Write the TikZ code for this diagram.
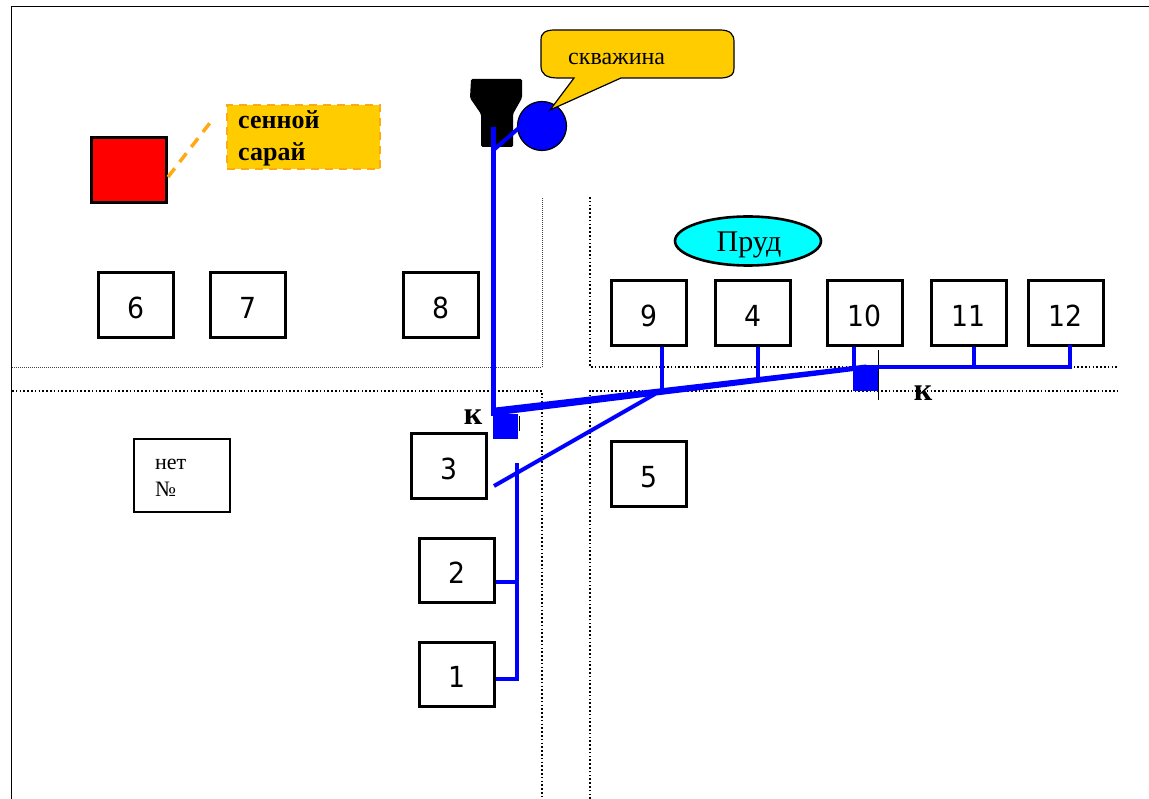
\documentclass[tikz,border=0pt]{standalone}
\usepackage{fontspec}
\setmainfont{Liberation Serif}
\newfontfamily\digitfont[FakeStretch=0.92]{DejaVu Sans}
\usetikzlibrary{shapes.geometric,calc}
\definecolor{gold}{RGB}{255,204,0}
\definecolor{dashorange}{RGB}{255,170,20}
\definecolor{pondcyan}{RGB}{0,255,255}
\definecolor{pipeblue}{RGB}{0,0,255}
\tikzset{
  x=1pt,y=-1pt,
  house/.style={draw=black,line width=3pt,fill=white,inner sep=0pt},
  pipe/.style={draw=pipeblue,line width=4pt},
  roadthin/.style={draw=black!75,line width=0.8pt,dash pattern=on 1pt off 1pt},
  road/.style={draw=black,line width=1.5pt,dash pattern=on 1.6pt off 2.2pt},
  valve/.style={fill=pipeblue,inner sep=0pt,minimum width=25pt,minimum height=25pt},
  klabel/.style={font=\bfseries\fontsize{32}{34}\selectfont,inner sep=0pt},
}
\newcommand{\housebox}[4]{\node[house,minimum width=75pt,minimum height=#4pt,anchor=north west] (#1) at (#2,#3) {};
  \node[font=\digitfont\fontsize{29}{32}\selectfont,inner sep=0pt,anchor=base] (t#1) at ($(#1.center)+(-0.5,13.5)$) {#1};}
\begin{document}
\begin{tikzpicture}
\useasboundingbox (0,0) rectangle (1149,799);
% frame
\draw[line width=1.6pt] (11.5,799) -- (11.5,6.5) -- (1149,6.5);
% roads
\draw[roadthin] (12,367) -- (542,367) -- (542,197);
\draw[road] (12,391) -- (542,391) -- (542,799);
\draw[road] (590,197) -- (590,367) -- (1117,367);
\draw[road] (590,799) -- (590,391) -- (1117,391);
% houses
\housebox{6}{97}{271.5}{65}
\housebox{7}{209}{271.5}{65}
\housebox{8}{402}{271.5}{65}
\housebox{9}{610}{279.5}{65}
\housebox{4}{714}{279.5}{65}
\housebox{10}{826}{279.5}{65}
\housebox{11}{930}{279.5}{65}
\housebox{12}{1027}{279.5}{65}
\housebox{3}{410}{432.5}{64}
\housebox{5}{610}{440.5}{64}
\housebox{2}{418}{536.5}{64}
\housebox{1}{418}{640.5}{64}
\node[draw,line width=2pt,minimum width=96pt,minimum height=73pt,anchor=north west] (nonum) at (133,438) {};
\node[anchor=north west,inner sep=0pt,align=left,font=\fontsize{22}{27}\selectfont] (nonumtext) at (155,459) {нет\\№};
% barn
\node[draw,fill=red,line width=3pt,minimum width=75pt,minimum height=65pt,anchor=north west] (barn) at (89.5,136) {};
\node[draw=dashorange,fill=gold,line width=2.5pt,dash pattern=on 8pt off 6pt,minimum width=153pt,minimum height=64pt,anchor=north west] (barnlabel) at (225.5,104) {};
\node[anchor=north west,inner sep=0pt,align=left,font=\bfseries\fontsize{26}{32}\selectfont] (barntext) at (238,110) {сенной\\сарай};
\coordinate (barnleader) at (168,177);
\coordinate (labelleader) at (213,119);
\draw[draw=dashorange,line width=3.5pt,dash pattern=on 11pt off 8pt] (barnleader) -- (labelleader);
% pump silhouette
\fill[black,rounded corners=1.5pt] (471,79) -- (522,79) -- (522,98) -- (513,114) -- (513,147) -- (481,147) -- (481,114) -- (470,98) -- cycle;
% well
\node[circle,draw,fill=pipeblue,line width=1.2pt,minimum size=49pt,inner sep=0pt] (well) at (542,126) {};
% callout
\draw[fill=gold,line width=1.2pt] (574,78) -- (550,110) -- (621,78) -- (722,78)
  .. controls (732,77) and (734,74) .. (734,68) -- (734,42)
  .. controls (734,34) and (730,30) .. (720,30) -- (555,30)
  .. controls (545,30) and (541,33) .. (541,40) -- (541,66)
  .. controls (541,74) and (546,78) .. (558,78) -- cycle;
\node[anchor=west,inner sep=0pt,font=\fontsize{24}{26}\selectfont] (calltext) at (568,59) {скважина};
% pond
\node[ellipse,draw,fill=pondcyan,line width=2.6pt,minimum width=146pt,minimum height=49pt,inner sep=0pt] (pond) at (748,241) {};
\node[inner sep=0pt,font=\fontsize{30}{32}\selectfont] (pondtext) at (749,245) {Пруд};
% valves
\node[valve,anchor=north west] (valveA) at (493,414) {};
\node[valve,anchor=north west] (valveB) at (853,366) {};
\coordinate (tickAt) at (519.5,416);
\coordinate (tickAb) at (519.5,431);
\coordinate (tickBt) at (878,350);
\coordinate (tickBb) at (878,400);
\draw[line width=1pt] (tickAt) -- (tickAb);
\draw[line width=1pt] (tickBt) -- (tickBb);
\node[klabel] (kA) at (473,417) {к};
\node[klabel] (kB) at (923,393) {к};
% pipes
\coordinate (top) at (493.5,127);
\coordinate (fork) at (493.5,150);
\coordinate (corner) at (493.5,412);
\coordinate (mainend) at (866,367);
\coordinate (split) at (655,394);
\coordinate (branchend) at (494,486);
\coordinate (wellpt) at (520,127);
\coordinate (risertop) at (517,463);
\coordinate (riserbot) at (517,679);
\coordinate (j9) at (662,392);
\coordinate (j4) at (758,380);
\coordinate (j10) at (854,369);
\coordinate (j11) at (974,367);
\coordinate (j12) at (1070,367);
\draw[draw=pipeblue,line width=5pt] (top) -- (corner);
\draw[pipe] (fork) -- (wellpt);
\fill[pipeblue] ($(corner)+(-2.5,-4)$) -- ($(mainend)+(0,-2.5)$) -- ($(mainend)+(0,2.5)$) -- ($(corner)+(-2.5,4)$) -- cycle;
\draw[pipe] (branchend) -- (split);
\draw[pipe] (risertop) -- (riserbot) -- (1.east |- riserbot);
\draw[pipe] (2.east |- 0,582) -- (517,582);
\draw[pipe] (mainend) -- (j12);
\draw[pipe,line cap=rect] (j12) -- (j12 |- 12.south);
\draw[pipe] (j11) -- (j11 |- 11.south);
\draw[pipe] (j10) -- (j10 |- 10.south);
\draw[pipe] (j4) -- (j4 |- 4.south);
\draw[pipe] (j9) -- (j9 |- 9.south);
\end{tikzpicture}
\end{document}
